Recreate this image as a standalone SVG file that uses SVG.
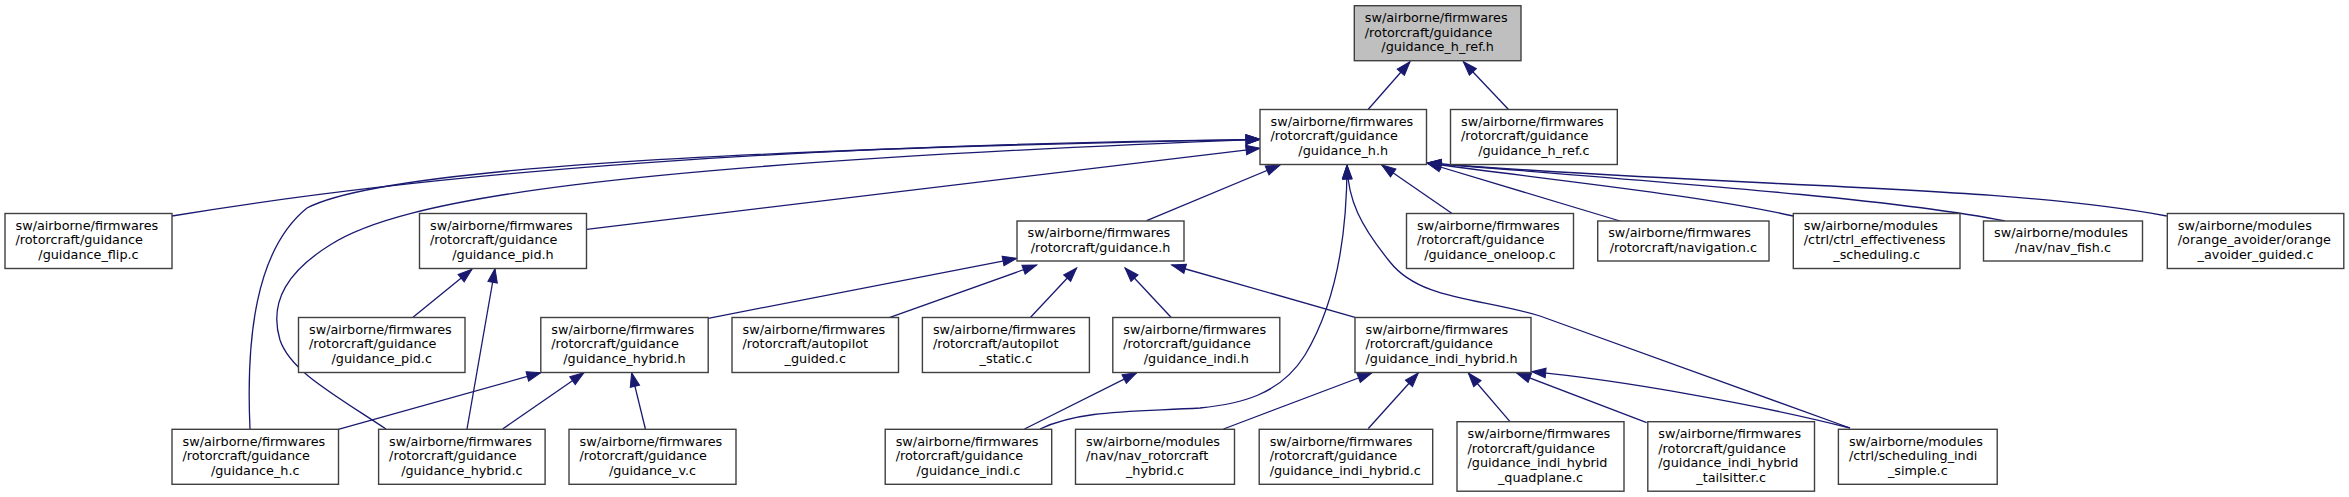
<svg xmlns="http://www.w3.org/2000/svg" width="2349" height="497" viewBox="0 0 2349 497">
<style>
.n rect{fill:#ffffff;stroke:#404040;stroke-width:1.4}
.n.root rect{fill:#bfbfbf}
.n text{font-family:"DejaVu Sans",sans-serif;font-size:12.8px;fill:#000000}
.n text.c{text-anchor:middle}
#edges path{fill:none;stroke:#191970;stroke-width:1.3;marker-end:url(#ah)}
</style>
<defs>
<marker id="ah" markerUnits="userSpaceOnUse" markerWidth="16" markerHeight="12" refX="14" refY="5" orient="auto" overflow="visible">
<path d="M0,0.2 L14,5 L0,9.8 Z" fill="#191970" stroke="#191970" stroke-width="1"/>
</marker>
</defs>
<rect width="2349" height="497" fill="#ffffff"/>
<g id="edges">
<path d="M1368.3,109.3 L1410,61.7"/>
<path d="M1508.3,109.3 L1463.3,61.7"/>
<path d="M172,216 C450,170 800,145 1260,139.3"/>
<path d="M250,429 C246,340 255,250 307,208 C380,170 700,150 1260,139.3"/>
<path d="M386,429 C330,392 290,370 280,340 C268,300 290,270 330,245 C400,200 600,165 1260,139.3"/>
<path d="M586.7,229.3 L1260,148.3"/>
<path d="M1146.7,220.7 L1280,165"/>
<path d="M1040,429 C1080,410 1130,412 1200,408 C1240,404 1280,395 1305,355 C1335,305 1347,240 1347,165"/>
<path d="M1451.7,213.3 L1381.7,165"/>
<path d="M1620,221 L1427,163"/>
<path d="M1793.3,216 C1700,195 1550,180 1427,163"/>
<path d="M2005,221 C1900,200 1700,185 1427,163"/>
<path d="M2166.7,216 C2000,185 1750,188 1427,163"/>
<path d="M1850,428 L1540,316 C1480,298 1420,300 1390,262 C1360,225 1348,200 1347,165"/>
<path d="M413,317.3 L472,269.3"/>
<path d="M467,429 L495,268.5"/>
<path d="M708.2,318.3 L1016.8,258.3"/>
<path d="M889.3,317.7 L1036.7,265"/>
<path d="M1030.6,317.3 L1076.7,268"/>
<path d="M1171,317.3 L1125,268"/>
<path d="M1355,317.3 L1171.7,265"/>
<path d="M338.3,429.3 L540.8,372.7"/>
<path d="M502.6,429 L584,372.7"/>
<path d="M645.4,429 L631.6,372.7"/>
<path d="M1024.5,429 L1136.7,372.8"/>
<path d="M1223.5,429 L1371.7,373"/>
<path d="M1368.3,428.5 L1418.3,373"/>
<path d="M1510,421.7 L1468.3,373"/>
<path d="M1646.7,422.7 L1516.7,373"/>
<path d="M1850,428 C1760,405 1620,380 1531.7,371.7"/>
</g>
<g id="n_guidance_h_ref_h" class="n root">
<rect x="1354.3" y="5.7" width="166.7" height="55"/>
<text x="1364.8" y="22">sw/airborne/firmwares</text>
<text x="1364.8" y="36.5">/rotorcraft/guidance</text>
<text class="c" x="1437.65" y="51">/guidance_h_ref.h</text>
</g>
<g id="n_guidance_h_h" class="n">
<rect x="1260" y="109.5" width="166.5" height="55"/>
<text x="1270.5" y="125.8">sw/airborne/firmwares</text>
<text x="1270.5" y="140.3">/rotorcraft/guidance</text>
<text class="c" x="1343.25" y="154.8">/guidance_h.h</text>
</g>
<g id="n_guidance_h_ref_c" class="n">
<rect x="1450.5" y="109.5" width="166.8" height="55"/>
<text x="1461" y="125.8">sw/airborne/firmwares</text>
<text x="1461" y="140.3">/rotorcraft/guidance</text>
<text class="c" x="1533.9" y="154.8">/guidance_h_ref.c</text>
</g>
<g id="n_guidance_flip_c" class="n">
<rect x="5" y="213.5" width="167" height="55"/>
<text x="15.5" y="229.8">sw/airborne/firmwares</text>
<text x="15.5" y="244.3">/rotorcraft/guidance</text>
<text class="c" x="88.5" y="258.8">/guidance_flip.c</text>
</g>
<g id="n_guidance_pid_h" class="n">
<rect x="419.5" y="213.5" width="167" height="55"/>
<text x="430" y="229.8">sw/airborne/firmwares</text>
<text x="430" y="244.3">/rotorcraft/guidance</text>
<text class="c" x="503" y="258.8">/guidance_pid.h</text>
</g>
<g id="n_guidance_h" class="n">
<rect x="1017" y="221" width="167" height="40"/>
<text x="1027.5" y="237.3">sw/airborne/firmwares</text>
<text class="c" x="1100.5" y="251.8">/rotorcraft/guidance.h</text>
</g>
<g id="n_guidance_oneloop_c" class="n">
<rect x="1406.5" y="213.5" width="167" height="55"/>
<text x="1417" y="229.8">sw/airborne/firmwares</text>
<text x="1417" y="244.3">/rotorcraft/guidance</text>
<text class="c" x="1490" y="258.8">/guidance_oneloop.c</text>
</g>
<g id="n_navigation_c" class="n">
<rect x="1597.7" y="221" width="171.3" height="40"/>
<text x="1608.2" y="237.3">sw/airborne/firmwares</text>
<text class="c" x="1683.35" y="251.8">/rotorcraft/navigation.c</text>
</g>
<g id="n_ctrl_effectiveness_scheduling_c" class="n">
<rect x="1793.3" y="213.5" width="166.7" height="55"/>
<text x="1803.8" y="229.8">sw/airborne/modules</text>
<text x="1803.8" y="244.3">/ctrl/ctrl_effectiveness</text>
<text class="c" x="1876.65" y="258.8">_scheduling.c</text>
</g>
<g id="n_nav_fish_c" class="n">
<rect x="1983.5" y="221" width="159" height="40"/>
<text x="1994" y="237.3">sw/airborne/modules</text>
<text class="c" x="2063" y="251.8">/nav/nav_fish.c</text>
</g>
<g id="n_orange_avoider_guided_c" class="n">
<rect x="2167.3" y="213.5" width="176.5" height="55"/>
<text x="2177.8" y="229.8">sw/airborne/modules</text>
<text x="2177.8" y="244.3">/orange_avoider/orange</text>
<text class="c" x="2255.55" y="258.8">_avoider_guided.c</text>
</g>
<g id="n_guidance_pid_c" class="n">
<rect x="298.5" y="317.5" width="166.5" height="55"/>
<text x="309" y="333.8">sw/airborne/firmwares</text>
<text x="309" y="348.3">/rotorcraft/guidance</text>
<text class="c" x="381.75" y="362.8">/guidance_pid.c</text>
</g>
<g id="n_guidance_hybrid_h" class="n">
<rect x="540.8" y="317.5" width="167.4" height="55"/>
<text x="551.3" y="333.8">sw/airborne/firmwares</text>
<text x="551.3" y="348.3">/rotorcraft/guidance</text>
<text class="c" x="624.5" y="362.8">/guidance_hybrid.h</text>
</g>
<g id="n_autopilot_guided_c" class="n">
<rect x="732" y="317.5" width="166.5" height="55"/>
<text x="742.5" y="333.8">sw/airborne/firmwares</text>
<text x="742.5" y="348.3">/rotorcraft/autopilot</text>
<text class="c" x="815.25" y="362.8">_guided.c</text>
</g>
<g id="n_autopilot_static_c" class="n">
<rect x="922.4" y="317.5" width="167" height="55"/>
<text x="932.9" y="333.8">sw/airborne/firmwares</text>
<text x="932.9" y="348.3">/rotorcraft/autopilot</text>
<text class="c" x="1005.9" y="362.8">_static.c</text>
</g>
<g id="n_guidance_indi_h" class="n">
<rect x="1112.8" y="317.5" width="167" height="55"/>
<text x="1123.3" y="333.8">sw/airborne/firmwares</text>
<text x="1123.3" y="348.3">/rotorcraft/guidance</text>
<text class="c" x="1196.3" y="362.8">/guidance_indi.h</text>
</g>
<g id="n_guidance_indi_hybrid_h" class="n">
<rect x="1355" y="317.5" width="176" height="55"/>
<text x="1365.5" y="333.8">sw/airborne/firmwares</text>
<text x="1365.5" y="348.3">/rotorcraft/guidance</text>
<text x="1365.5" y="362.8">/guidance_indi_hybrid.h</text>
</g>
<g id="n_guidance_h_c" class="n">
<rect x="172" y="429.3" width="166.5" height="55"/>
<text x="182.5" y="445.6">sw/airborne/firmwares</text>
<text x="182.5" y="460.1">/rotorcraft/guidance</text>
<text class="c" x="255.25" y="474.6">/guidance_h.c</text>
</g>
<g id="n_guidance_hybrid_c" class="n">
<rect x="378.6" y="429.3" width="166.5" height="55"/>
<text x="389.1" y="445.6">sw/airborne/firmwares</text>
<text x="389.1" y="460.1">/rotorcraft/guidance</text>
<text class="c" x="461.85" y="474.6">/guidance_hybrid.c</text>
</g>
<g id="n_guidance_v_c" class="n">
<rect x="569" y="429.3" width="167" height="55"/>
<text x="579.5" y="445.6">sw/airborne/firmwares</text>
<text x="579.5" y="460.1">/rotorcraft/guidance</text>
<text class="c" x="652.5" y="474.6">/guidance_v.c</text>
</g>
<g id="n_guidance_indi_c" class="n">
<rect x="885.2" y="429.3" width="166.5" height="55"/>
<text x="895.7" y="445.6">sw/airborne/firmwares</text>
<text x="895.7" y="460.1">/rotorcraft/guidance</text>
<text class="c" x="968.45" y="474.6">/guidance_indi.c</text>
</g>
<g id="n_nav_rotorcraft_hybrid_c" class="n">
<rect x="1075.5" y="429.3" width="159" height="55"/>
<text x="1086" y="445.6">sw/airborne/modules</text>
<text x="1086" y="460.1">/nav/nav_rotorcraft</text>
<text class="c" x="1155" y="474.6">_hybrid.c</text>
</g>
<g id="n_guidance_indi_hybrid_c" class="n">
<rect x="1259.2" y="429.3" width="173.5" height="55"/>
<text x="1269.7" y="445.6">sw/airborne/firmwares</text>
<text x="1269.7" y="460.1">/rotorcraft/guidance</text>
<text x="1269.7" y="474.6">/guidance_indi_hybrid.c</text>
</g>
<g id="n_guidance_indi_hybrid_quadplane_c" class="n">
<rect x="1457" y="421.7" width="167" height="69.5"/>
<text x="1467.5" y="438">sw/airborne/firmwares</text>
<text x="1467.5" y="452.5">/rotorcraft/guidance</text>
<text x="1467.5" y="467">/guidance_indi_hybrid</text>
<text class="c" x="1540.5" y="481.5">_quadplane.c</text>
</g>
<g id="n_guidance_indi_hybrid_tailsitter_c" class="n">
<rect x="1647.8" y="421.7" width="166.7" height="69.5"/>
<text x="1658.3" y="438">sw/airborne/firmwares</text>
<text x="1658.3" y="452.5">/rotorcraft/guidance</text>
<text x="1658.3" y="467">/guidance_indi_hybrid</text>
<text class="c" x="1731.15" y="481.5">_tailsitter.c</text>
</g>
<g id="n_scheduling_indi_simple_c" class="n">
<rect x="1838.4" y="429.3" width="158.8" height="55"/>
<text x="1848.9" y="445.6">sw/airborne/modules</text>
<text x="1848.9" y="460.1">/ctrl/scheduling_indi</text>
<text class="c" x="1917.8" y="474.6">_simple.c</text>
</g>
</svg>
